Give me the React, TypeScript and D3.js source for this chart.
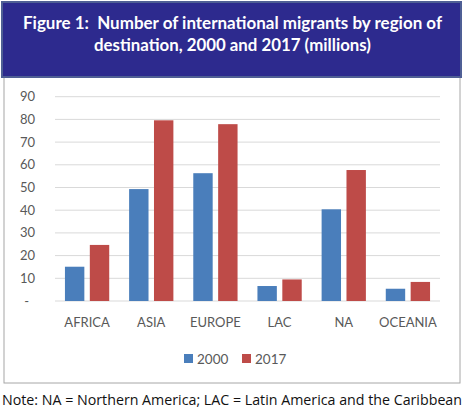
import React from "react";
import * as d3 from "d3";

const categories = ["AFRICA", "ASIA", "EUROPE", "LAC", "NA", "OCEANIA"];
const series = ["2000", "2017"];
const values2000 = [15.1, 49.3, 56.3, 6.6, 40.4, 5.4];
const values2017 = [24.7, 79.6, 77.9, 9.5, 57.7, 8.4];
const yTicks = [0, 10, 20, 30, 40, 50, 60, 70, 80, 90];
const titleLines = [
  "Figure 1:\u00a0\u00a0Number of international migrants by region of",
  "destination, 2000 and 2017 (millions)",
];
const titleWidths = [419, 277];
const note = "Note: NA = Northern America; LAC = Latin America and the Caribbean";

const W = 469;
const H = 411;
const colors: Record<string, string> = { "2000": "#4A7EBB", "2017": "#BE4B48" };

export default function App() {
  const x0 = d3
    .scaleBand<string>()
    .domain(categories)
    .range([55, 440])
    .paddingInner(0.31)
    .paddingOuter(0.155);
  const x1 = d3
    .scaleBand<string>()
    .domain(series)
    .range([0, x0.bandwidth()])
    .paddingInner(0.22);
  const y = d3.scaleLinear().domain([0, 90]).range([301, 96.7]);
  const data: Record<string, number[]> = { "2000": values2000, "2017": values2017 };
  const font = "Lato, 'Open Sans', sans-serif";

  return (
    <svg
      width={W}
      height={H}
      style={{ position: "absolute", left: 0, top: 0, background: "#fff" }}
    >
      {/* chart frame */}
      <rect x={4} y={70} width={456} height={313} fill="#fff" stroke="#A6A6A6" strokeWidth={1} />
      {/* title box */}
      <rect x={2} y={2} width={459} height={75} fill="#2D2A8E" stroke="#4F5F95" strokeWidth={2} />
      {titleLines.map((t, i) => (
        <text
          key={i}
          x={232.5}
          y={29 + i * 22}
          textAnchor="middle"
          fill="#fff"
          fontFamily={font}
          fontWeight={700}
          fontSize={16.5}
          textLength={titleWidths[i]}
          lengthAdjust="spacingAndGlyphs"
        >
          {t}
        </text>
      ))}
      {/* gridlines */}
      {yTicks.map((t) => (
        <g key={t}>
          <line x1={55} x2={440} y1={y(t)} y2={y(t)} stroke="#D9D9D9" strokeWidth={1} />
          <text
            x={t === 0 ? 29 : 35}
            y={y(t) + 4.5}
            textAnchor="end"
            fill="#595959"
            fontFamily={font}
            fontSize={13}
          >
            {t === 0 ? "-" : t}
          </text>
        </g>
      ))}
      {/* bars */}
      {categories.map((c, i) => (
        <g key={c} transform={`translate(${x0(c)},0)`}>
          {series.map((s) => (
            <rect
              key={s}
              x={x1(s)}
              y={y(data[s][i])}
              width={x1.bandwidth()}
              height={y(0) - y(data[s][i])}
              fill={colors[s]}
            />
          ))}
          <text
            x={x0.bandwidth() / 2}
            y={327}
            textAnchor="middle"
            fill="#595959"
            fontFamily={font}
            fontSize={13}
          >
            {c}
          </text>
        </g>
      ))}
      {/* legend */}
      {series.map((s, i) => (
        <g key={s} transform={`translate(${184 + i * 58},354)`}>
          <rect x={0} y={0} width={9} height={9} fill={colors[s]} />
          <text x={13} y={9.5} fill="#595959" fontFamily={font} fontSize={13.5}>
            {s}
          </text>
        </g>
      ))}
      <text
        x={2}
        y={405}
        fill="#111"
        fontFamily="'Open Sans', 'Noto Sans', sans-serif"
        fontSize={14}
        textLength={460}
        lengthAdjust="spacingAndGlyphs"
      >
        {note}
      </text>
    </svg>
  );
}
